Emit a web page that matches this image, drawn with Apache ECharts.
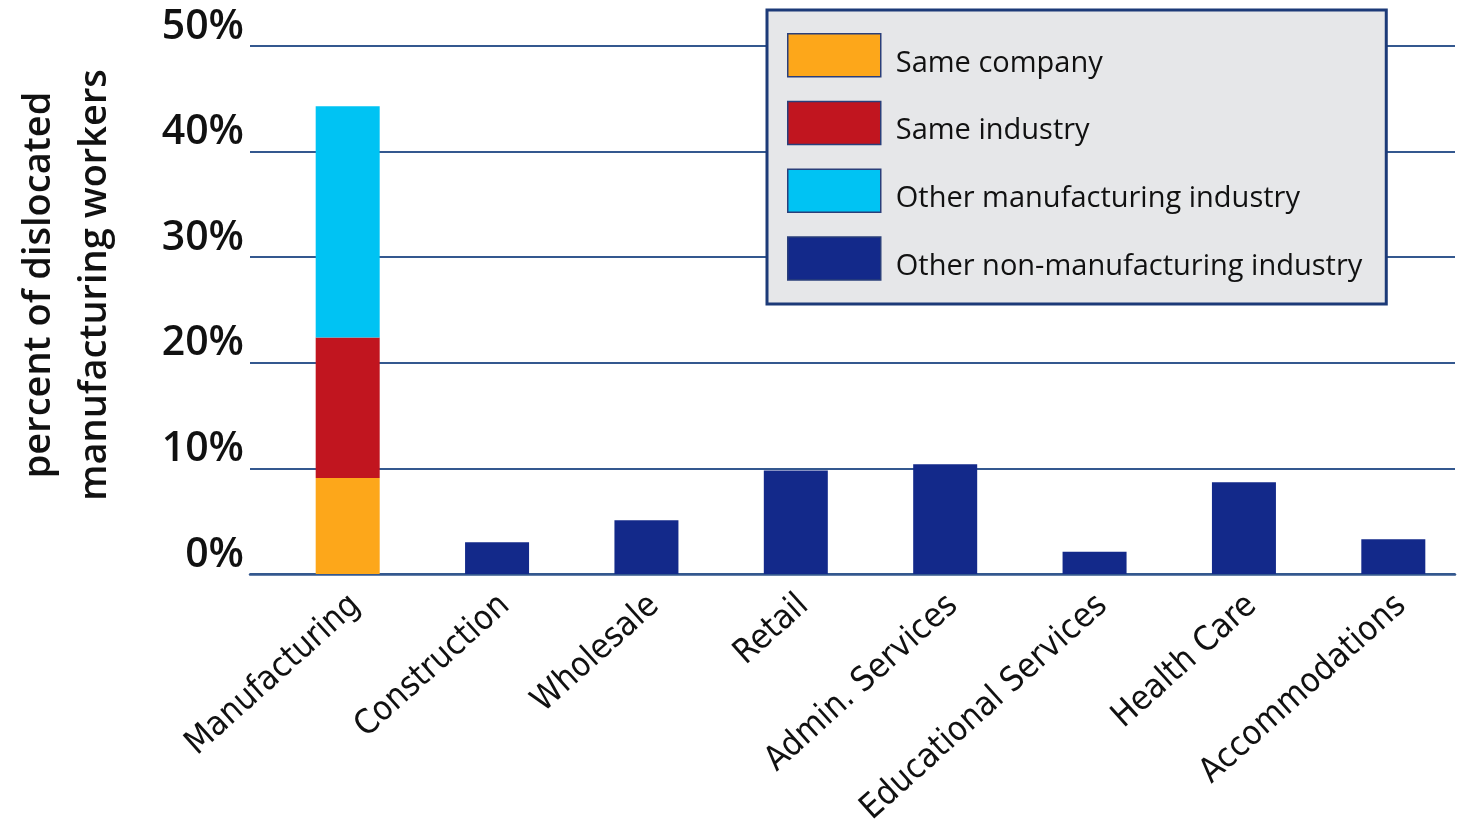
<!DOCTYPE html>
<html><head><meta charset="utf-8">
<script src="https://cdn.jsdelivr.net/npm/echarts@6/dist/echarts.min.js"></script>
<style>html,body{margin:0;padding:0;background:#fff;overflow:hidden}#c{width:1480px;height:820px}</style>
</head><body><div id="c"></div>
<script>
const categories = ['Manufacturing','Construction','Wholesale','Retail','Admin. Services','Educational Services','Health Care','Accommodations'];
const sameCompany = [9.1, null, null, null, null, null, null, null];
const sameIndustry = [13.3, null, null, null, null, null, null, null];
const otherManufacturing = [21.9, null, null, null, null, null, null, null];
const otherNonManufacturing = [null, 3.0, 5.1, 9.8, 10.4, 2.1, 8.7, 3.3];
const seriesNames = ['Same company','Same industry','Other manufacturing industry','Other non-manufacturing industry'];
const yTicks = [0, 10, 20, 30, 40, 50];

const colors = ['#FDA71A','#C1151F','#00C3F3','#13298A'];
const gridColor = '#34588F';
const font = 'Open Sans';

const chart = echarts.init(document.getElementById('c'), null, {renderer:'canvas'});
const dataSets = [sameCompany, sameIndustry, otherManufacturing, otherNonManufacturing];
chart.setOption({
  animation:false,
  backgroundColor:'#fff',
  grid:[
    {left:250, right:25, top:46, bottom:246, outerBoundsMode:'none'},
    {left:273, right:12, top:46, bottom:246, outerBoundsMode:'none'},
    {left:281, right:4, top:46, bottom:246, outerBoundsMode:'none'}
  ],
  xAxis:[
    {gridIndex:0, type:'value', min:0, max:1, show:true, axisLabel:{show:false}, axisTick:{show:false}, splitLine:{show:false},
     axisLine:{show:true, lineStyle:{color:gridColor, width:2.5}}},
    {gridIndex:1, type:'category', data:categories, axisLine:{show:false}, axisTick:{show:false}, axisLabel:{show:false}},
    {gridIndex:2, type:'category', data:categories, axisLine:{show:false}, axisTick:{show:false},
     axisLabel:{interval:0, rotate:42, fontFamily:'DejaVu Sans Condensed', fontSize:34, color:'#111', margin:27}}
  ],
  yAxis:[
    {gridIndex:0, type:'value', min:yTicks[0], max:yTicks[yTicks.length-1], interval:10,
     axisLine:{show:false}, axisTick:{show:false},
     axisLabel:{formatter: v => v + '%\n ', fontFamily:font, fontWeight:600, fontSize:41, lineHeight:38, color:'#111', margin:6, verticalAlign:'middle'},
     splitLine:{show:true, lineStyle:{color:gridColor, width:2}}},
    {gridIndex:1, type:'value', min:yTicks[0], max:yTicks[yTicks.length-1], interval:10, show:false, splitLine:{show:false}},
    {gridIndex:2, type:'value', min:0, max:50, show:false, splitLine:{show:false}}
  ],
  legend:{
    orient:'vertical', left:767, top:10,
    padding:[23,24,23,20], itemWidth:93, itemHeight:43, itemGap:23, icon:'rect',
    backgroundColor:'#E6E7E9', borderColor:'#1C3A78', borderWidth:3,
    itemStyle:{borderColor:'#2A3F7A', borderWidth:1.5},
    formatter: name => '{s| }\n{t|' + name + '}',
    textStyle:{fontFamily:font, fontWeight:500, fontSize:29, color:'#111', padding:[0,0,0,10],
      rich:{s:{fontSize:8, height:16, lineHeight:16}, t:{fontFamily:font, fontWeight:500, fontSize:29, height:28, lineHeight:28, color:'#111'}}},
    data:seriesNames
  },
  graphic:[{
    type:'text', x:67, y:285, rotation:Math.PI/2,
    style:{text:'percent of dislocated\nmanufacturing workers', font:'600 38px "Open Sans"', fill:'#111',
      align:'center', verticalAlign:'middle', lineHeight:56}
  }],
  series: dataSets.map((d,i)=>({
    name:seriesNames[i], type:'bar', stack:'total', xAxisIndex:1, yAxisIndex:1,
    barWidth:64, data:d, itemStyle:{color:colors[i]}
  }))
});
</script></body></html>
